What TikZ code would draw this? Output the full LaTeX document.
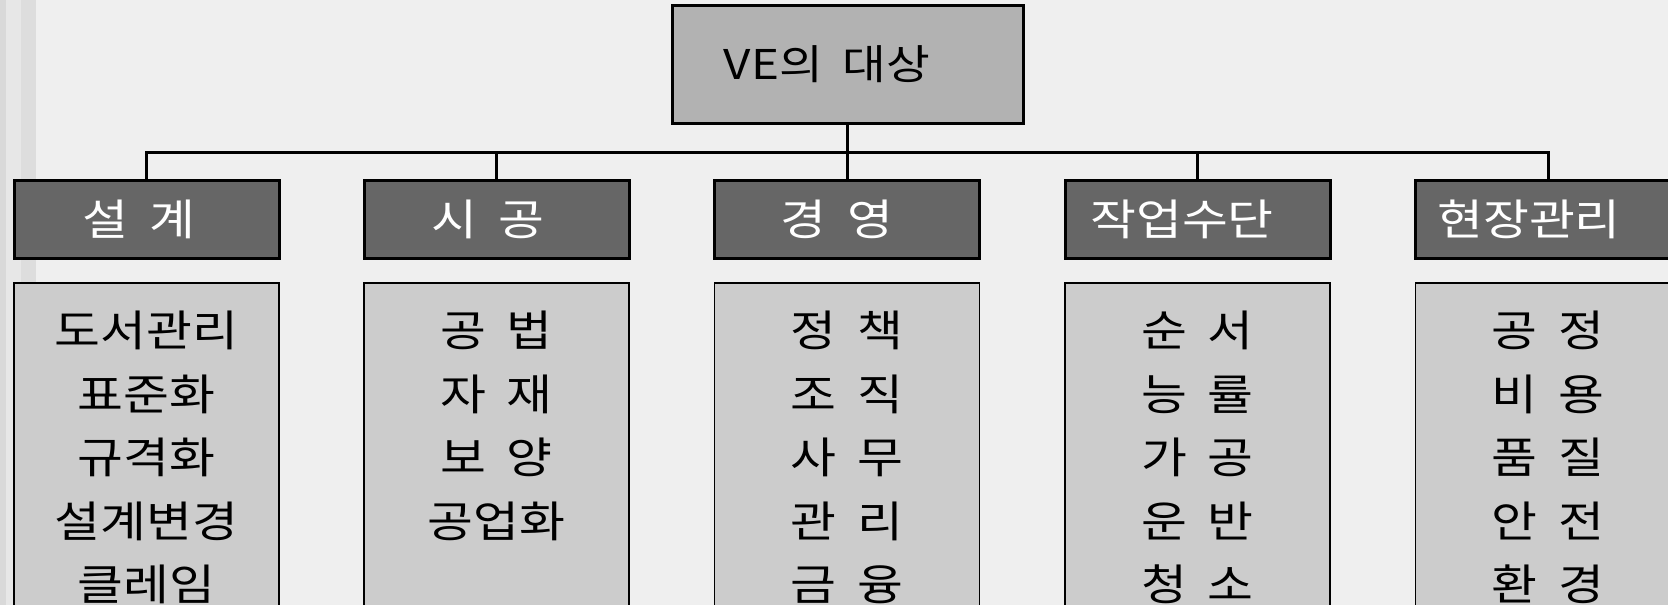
\documentclass[tikz,border=0pt]{standalone}
\usepackage{fontspec}
\setmainfont[WordSpace=1.85,FakeStretch=1.16]{Noto Sans CJK KR}
\definecolor{bgc}{HTML}{EFEFEF}
\definecolor{stripeA}{HTML}{D9D9D9}
\definecolor{stripeB}{HTML}{E7E7E7}
\definecolor{stripeC}{HTML}{DDDDDD}
\definecolor{titlefill}{HTML}{B2B2B2}
\definecolor{catfill}{HTML}{666666}
\definecolor{itemfill}{HTML}{CCCCCC}
\tikzset{
  titlebox/.style={draw=black, line width=3pt, fill=titlefill, minimum width=351pt, minimum height=118pt, inner sep=0pt},
  catbox/.style={draw=black, line width=3pt, fill=catfill, minimum width=265pt, minimum height=78pt, inner sep=0pt},
  cattext/.style={inner sep=0pt, text=white, font=\fontsize{43}{43}\selectfont},
  itembox/.style={draw=black, line width=1.8pt, fill=itemfill, minimum width=265pt, minimum height=400pt, inner sep=0pt, anchor=north},
  itemtext/.style={align=center, anchor=north, inner sep=0pt, font=\fontsize{43}{63.5}\selectfont},
  conn/.style={draw=black, line width=3pt}
}
\begin{document}
\begin{tikzpicture}[x=1pt,y=-1pt]
\useasboundingbox (0,0) rectangle (1668,605);
\clip (0,0) rectangle (1668,605);
\fill[bgc] (0,0) rectangle (1668,605);
\fill[stripeA] (0,0) rectangle (6,605);
\fill[stripeB] (6,0) rectangle (21,605);
\fill[stripeC] (21,0) rectangle (36,605);

\node[titlebox] (title) at (847.5,64) {};
\node[font=\fontsize{41}{41}\selectfont, inner sep=0pt] (titletext) at (827,64) {VE의 대상};

\node[catbox] (cat1) at (146.5,219) {};
\node[catbox] (cat2) at (496.5,219) {};
\node[catbox] (cat3) at (847,219) {};
\node[catbox] (cat4) at (1197.5,219) {};
\node[catbox] (cat5) at (1548,219) {};
\node[cattext] (c1t) at (139,219) {설 계};
\node[cattext] (c2t) at (488,219) {시 공};
\node[cattext] (c3t) at (837,219) {경 영};
\node[cattext] (c4t) at (1182,219) {작업수단};
\node[cattext] (c5t) at (1529,219) {현장관리};

\coordinate (bus) at (0,152);
\draw[conn] (title.south) -- (title.south |- cat3.north);
\foreach \k in {1,2,4,5}{
  \draw[conn] (cat\k.north) -- (cat\k.north |- bus) -- (title.south |- bus);
}

\node[itembox] (box1) at (146.5,282) {};
\node[itembox] (box2) at (496.5,282) {};
\node[itembox] (box3) at (847,282) {};
\node[itembox] (box4) at (1197.5,282) {};
\node[itembox] (box5) at (1548,282) {};

\node[itemtext] (t1) at (146.5,311) {도서관리\\표준화\\규격화\\설계변경\\클레임};
\node[itemtext] (t2) at (496.5,311) {공 법\\자 재\\보 양\\공업화};
\node[itemtext] (t3) at (847,311) {정 책\\조 직\\사 무\\관 리\\금 융};
\node[itemtext] (t4) at (1197.5,311) {순 서\\능 률\\가 공\\운 반\\청 소};
\node[itemtext] (t5) at (1548,311) {공 정\\비 용\\품 질\\안 전\\환 경};
\end{tikzpicture}
\end{document}
